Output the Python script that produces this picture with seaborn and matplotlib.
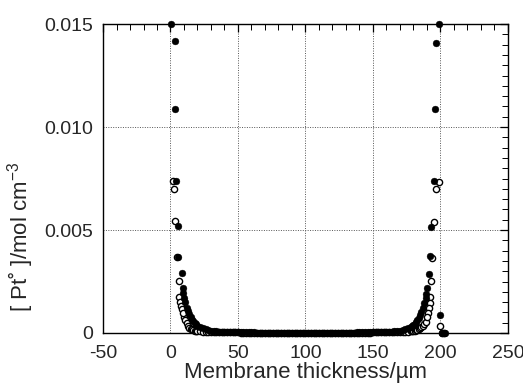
import matplotlib
matplotlib.use("Agg")
import matplotlib.pyplot as plt
import seaborn as sns
import pandas as pd
from matplotlib.ticker import MultipleLocator, FixedLocator, FixedFormatter

# ---------------- data ----------------
# shared sampling positions in the membrane interior (µm)
x_grid = [10, 11, 12, 13, 14, 15, 16, 17, 18, 19, 20,
          22, 24, 26, 28, 30, 32, 34, 36, 38, 40, 42, 44, 46, 48, 50,
          52, 54, 56, 58, 60, 62, 64, 66, 68, 70, 72, 74, 76, 78, 80,
          82, 84, 86, 88, 90, 92, 94, 96, 98, 100,
          102, 104, 106, 108, 110, 112, 114, 116, 118, 120, 122, 124, 126, 128,
          130, 132, 134, 136, 138, 140, 142, 144, 146, 148, 150,
          152, 154, 156, 158, 160, 162, 164, 166, 168, 170, 172, 174, 176, 178,
          179, 180, 181, 182, 183, 184, 185, 186, 187, 188, 189]

# filled circles series (mol cm-3)
filled_grid = [0.00170, 0.00150, 0.00122, 0.00105, 0.00090, 0.00076, 0.00065, 0.00056, 0.00048, 0.00042, 0.00036,
               0.00028, 0.00022, 0.00017, 0.00014, 0.00011, 0.00009, 0.00008, 0.00007, 0.00006, 0.00005,
               0.00005, 0.00004, 0.00004, 0.00004, 0.00003,
               0.00003, 0.00003, 0.00003, 0.00003, 0.00003, 0.00003,
               0.00002, 0.00002, 0.00002, 0.00002, 0.00002, 0.00002, 0.00002, 0.00002, 0.00002,
               0.00002, 0.00002, 0.00002, 0.00002, 0.00002, 0.00002, 0.00002, 0.00002, 0.00002,
               0.00002,
               0.00002, 0.00002, 0.00002, 0.00002, 0.00002, 0.00002, 0.00002, 0.00002, 0.00002,
               0.00002, 0.00002, 0.00002, 0.00002, 0.00002, 0.00002, 0.00002, 0.00002, 0.00002,
               0.00003, 0.00003, 0.00003, 0.00003, 0.00003, 0.00003,
               0.00003, 0.00004, 0.00004, 0.00004, 0.00005, 0.00005, 0.00006, 0.00007, 0.00008,
               0.00009, 0.00011, 0.00014, 0.00017, 0.00022, 0.00028,
               0.00034, 0.00040, 0.00046, 0.00054, 0.00063, 0.00074, 0.00088, 0.00103, 0.00120, 0.00148, 0.00168]

# open circles series (mol cm-3)
open_grid = [0.00080, 0.00063, 0.00047, 0.00034, 0.00026, 0.00021, 0.00017, 0.00014, 0.00012, 0.00011, 0.00010,
             0.00008, 0.00007, 0.00006, 0.00005, 0.00005, 0.00004, 0.00004, 0.00004, 0.00003, 0.00003,
             0.00003, 0.00003, 0.00003, 0.00003, 0.00003,
             0.00002, 0.00002, 0.00002, 0.00002, 0.00002, 0.00002, 0.00002, 0.00002, 0.00002, 0.00002,
             0.00001, 0.00001, 0.00001, 0.00001, 0.00001, 0.00001, 0.00001, 0.00001, 0.00001, 0.00001,
             0.00001, 0.00001, 0.00001, 0.00001,
             0.00001,
             0.00001, 0.00001, 0.00001, 0.00001, 0.00001, 0.00001, 0.00001, 0.00001, 0.00001, 0.00001,
             0.00001, 0.00001, 0.00001, 0.00001,
             0.00002, 0.00002, 0.00002, 0.00002, 0.00002, 0.00002, 0.00002, 0.00002, 0.00002, 0.00002,
             0.00003, 0.00003, 0.00003, 0.00003, 0.00003,
             0.00003, 0.00003, 0.00004, 0.00004, 0.00004, 0.00005, 0.00005, 0.00006, 0.00007, 0.00008,
             0.00009, 0.00010, 0.00011, 0.00013, 0.00015, 0.00018, 0.00022, 0.00027, 0.00034, 0.00043, 0.00055]

# steep points near the two membrane faces
filled_edge_x = [0.7, 3.0, 3.7, 4.4, 5.4, 5.4, 8.4, 8.9, 9.4,
                 198.7, 196.8, 195.8, 195.0, 193.3, 192.6, 191.9, 190.1, 189.6,
                 199.5, 201.3, 202.5, 203.6]
filled_edge_y = [0.0150, 0.0142, 0.0109, 0.0074, 0.0052, 0.0037, 0.0029, 0.0022, 0.00195,
                 0.0150, 0.0141, 0.0109, 0.0074, 0.00516, 0.00374, 0.00286, 0.00217, 0.0019,
                 0.00087, 0.0, 0.0, 0.0]
open_edge_x = [1.7, 2.4, 3.2, 5.0, 6.1, 6.4, 6.9, 7.6, 8.4, 9.4,
               198.7, 196.8, 195.6, 193.9, 193.3, 192.6, 192.2, 191.9, 190.9, 190.1,
               199.5, 201.3, 202.5]
open_edge_y = [0.0074, 0.0070, 0.00545, 0.0037, 0.00254, 0.00176, 0.00152, 0.00132, 0.00116, 0.00095,
               0.00734, 0.0070, 0.0054, 0.00365, 0.00252, 0.00176, 0.00144, 0.0012, 0.00096, 0.00076,
               0.00034, 0.0, 0.0]

x_ticks = [-50, 0, 50, 100, 150, 200, 250]
x_tick_labels = ["-50", "0", "50", "100", "150", "200", "250"]
y_ticks = [0, 0.005, 0.010, 0.015]
y_tick_labels = ["0", "0.005", "0.010", "0.015"]

# ---------------- tables ----------------
df_filled = pd.DataFrame({"x": x_grid + filled_edge_x, "y": filled_grid + filled_edge_y})
df_open = pd.DataFrame({"x": x_grid + open_edge_x, "y": open_grid + open_edge_y})

# ---------------- figure ----------------
sns.set_style("white")
plt.rcParams["font.family"] = ["Liberation Sans", "DejaVu Sans"]
plt.rcParams["mathtext.fontset"] = "custom"
plt.rcParams["mathtext.rm"] = "Liberation Sans"

fig = plt.figure(figsize=(5.23, 3.89), dpi=100)
ax = fig.add_axes([0.197, 0.144, 0.774, 0.794])

sns.scatterplot(data=df_open, x="x", y="y", ax=ax, facecolor="white", marker="o",
                s=20, linewidth=1.0, edgecolor="black", zorder=3, clip_on=False)
sns.scatterplot(data=df_filled, x="x", y="y", ax=ax, color="black", marker="o",
                s=24, linewidth=0.3, edgecolor="black", zorder=4, clip_on=False)

ax.set_xlim(-50, 250)
ax.set_ylim(0, 0.015)
ax.xaxis.set_major_locator(FixedLocator(x_ticks))
ax.xaxis.set_major_formatter(FixedFormatter(x_tick_labels))
ax.yaxis.set_major_locator(FixedLocator(y_ticks))
ax.yaxis.set_major_formatter(FixedFormatter(y_tick_labels))
ax.xaxis.set_minor_locator(MultipleLocator(10))
ax.yaxis.set_minor_locator(MultipleLocator(0.0005))

ax.tick_params(which="both", direction="in", top=True, right=True, color="black",
               labelsize=14)
ax.tick_params(axis="x", which="major", pad=9)
ax.tick_params(axis="y", which="major", pad=7)
ax.tick_params(which="major", length=6, width=0.9)
ax.tick_params(which="minor", length=4, width=0.7)

ax.grid(True, which="major", linestyle=(0, (1, 1.5)), color="#555555", linewidth=0.7)
ax.set_axisbelow(True)
for sp in ax.spines.values():
    sp.set_color("black")
    sp.set_linewidth(1.0)

ax.set_xlabel("Membrane thickness/\u00b5m", fontsize=16, labelpad=0)
ax.set_ylabel("[ Pt\u02da ]/mol cm$^{-3}$", fontsize=16)
ax.yaxis.set_label_coords(-0.165, 0.31)

fig.savefig("out.png", dpi=100)
